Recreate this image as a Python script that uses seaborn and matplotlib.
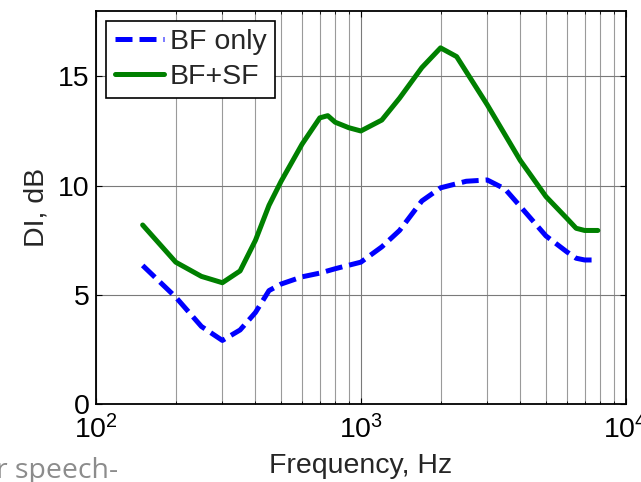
import numpy as np
import pandas as pd
import matplotlib
matplotlib.use("Agg")
import matplotlib.pyplot as plt
import seaborn as sns
from matplotlib.ticker import LogLocator, FixedLocator, NullFormatter

# ---- data ----
freq_bf = [150, 200, 250, 300, 350, 400, 450, 500, 600, 700, 800, 900, 1000,
           1200, 1400, 1700, 2000, 2500, 3000, 3500, 4000, 5000, 6000, 6500, 7000, 7850]
di_bf = [6.35, 4.9, 3.56, 2.92, 3.4, 4.2, 5.2, 5.5, 5.83, 6.0, 6.2, 6.36, 6.5,
         7.2, 7.95, 9.3, 9.9, 10.2, 10.26, 9.85, 9.05, 7.7, 6.97, 6.68, 6.6, 6.6]

freq_sf = [150, 200, 250, 300, 350, 400, 450, 500, 600, 700, 750, 800, 900, 1000,
           1200, 1400, 1700, 2000, 2300, 3000, 4000, 5000, 6000, 6500, 7000, 7850]
di_sf = [8.2, 6.5, 5.85, 5.56, 6.1, 7.5, 9.1, 10.2, 11.9, 13.1, 13.2, 12.9, 12.65, 12.5,
         13.0, 14.0, 15.4, 16.3, 15.9, 13.7, 11.15, 9.5, 8.5, 8.05, 7.95, 7.95]

series_labels = ["BF only", "BF+SF"]
x_label = "Frequency, Hz"
y_label = "DI, dB"
y_ticks = [0, 5, 10, 15]
x_ticks = [100, 1000, 10000]
x_tick_labels = [r"$\mathregular{10^{2}}$", r"$\mathregular{10^{3}}$", r"$\mathregular{10^{4}}$"]
footer_text = "r speech-"

sns.set_theme(style="white")
plt.rcParams["font.family"] = ["Liberation Sans", "DejaVu Sans"]
plt.rcParams["mathtext.default"] = "regular"

FS = 20.5
LW = 3.6
fig = plt.figure(figsize=(6.41, 4.82), dpi=100)
ax = fig.add_axes([0.1498, 0.1612, 0.8263, 0.8166])

df_bf = pd.DataFrame({"f": freq_bf, "di": di_bf})
df_sf = pd.DataFrame({"f": freq_sf, "di": di_sf})

sns.lineplot(data=df_bf, x="f", y="di", ax=ax, color="#0000ff", lw=LW,
             label=series_labels[0], zorder=3)
sns.lineplot(data=df_sf, x="f", y="di", ax=ax, color="#008000", lw=LW,
             label=series_labels[1], zorder=3)
ax.lines[0].set_dashes([3.4, 1.4])
for ln in ax.lines:
    ln.set_solid_joinstyle("round")
    ln.set_dash_joinstyle("round")

ax.set_xscale("log")
ax.set_xlim(100, 10000)
ax.set_ylim(0, 18)

ax.xaxis.set_major_locator(FixedLocator(x_ticks))
ax.set_xticklabels(x_tick_labels)
ax.xaxis.set_minor_locator(LogLocator(base=10, subs=np.arange(2, 10)))
ax.xaxis.set_minor_formatter(NullFormatter())
ax.set_yticks(y_ticks)
ax.set_yticklabels([str(v) for v in y_ticks])

ax.grid(True, which="major", axis="both", color="#7a7a7a", lw=0.8)
ax.grid(True, which="minor", axis="x", color="#9a9a9a", lw=0.8)
ax.set_axisbelow(True)

ax.tick_params(which="both", direction="in", top=True, right=True,
               bottom=True, left=True, colors="black", labelsize=FS)
ax.tick_params(which="major", length=4, width=0.8)
ax.tick_params(which="minor", length=2, width=0.6)
ax.tick_params(axis="x", which="major", pad=8)
ax.tick_params(axis="y", which="major", pad=4.5)
for s in ax.spines.values():
    s.set_color("black")
    s.set_linewidth(1.3)

ax.set_xlabel(x_label, fontsize=FS, labelpad=6)
ax.set_ylabel(y_label, fontsize=FS, labelpad=6)

leg = ax.legend(loc="upper left", fontsize=FS, frameon=True, fancybox=False,
                edgecolor="black", framealpha=1, borderaxespad=0.35,
                handlelength=1.75, handletextpad=0.2, labelspacing=0.3,
                borderpad=0.3)
leg.get_frame().set_linewidth(1.2)

fig.text(-0.006, 4 / 482, footer_text, fontsize=20.5, color="#8c8c8c",
         family=["Open Sans", "DejaVu Sans"], ha="left", va="baseline")

fig.savefig("out.png", dpi=100)
